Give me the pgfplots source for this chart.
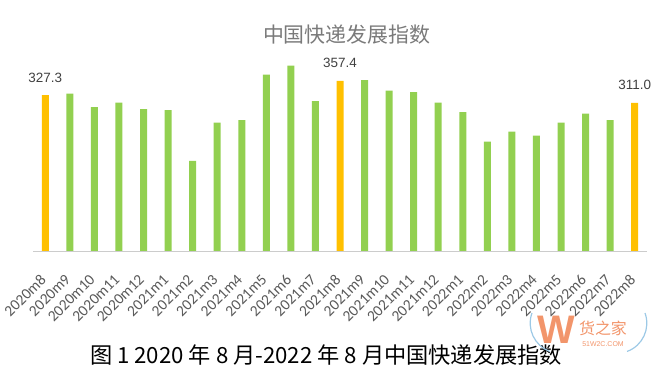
\documentclass[border=0pt]{standalone}
\usepackage{pgfplots}
\pgfplotsset{compat=1.18}
\usepackage{fontspec}
\setmainfont{Liberation Sans}
\newfontfamily\cjk{Noto Sans CJK SC}
\newfontfamily\calibri{Carlito}
\definecolor{barG}{HTML}{92D050}
\definecolor{barY}{HTML}{FFC000}
\definecolor{tickgray}{HTML}{595959}
\definecolor{labgray}{HTML}{404040}
\definecolor{titlegray}{HTML}{7A7A7A}
\definecolor{wmorange}{HTML}{F2956B}
\definecolor{wmblue}{HTML}{9CC9E6}
\begin{document}
\begin{tikzpicture}
\path[use as bounding box] (0,0) rectangle (659bp,381bp);
\begin{axis}[
  scale only axis, width=614bp, height=200bp,
  at={(33bp,130bp)}, anchor=south west,
  xmin=-0.5, xmax=24.5, ymin=0, ymax=420,
  axis y line=none, axis x line*=bottom,
  x axis line style={draw=black!20, line width=0.8pt, -},
  xtick={0,...,24},
  xticklabels={2020m8,2020m9,2020m10,2020m11,2020m12,2021m1,2021m2,2021m3,2021m4,2021m5,2021m6,2021m7,2021m8,2021m9,2021m10,2021m11,2021m12,2022m1,2022m2,2022m3,2022m4,2022m5,2022m6,2022m7,2022m8},
  major tick length=0pt,
  xticklabel style={yshift=-26bp, xshift=-2bp, rotate=45, anchor=east, font=\calibri\fontsize{15.5}{15.5}\selectfont, text=tickgray, inner sep=0pt},
  ybar, bar width=7bp,
  clip=false,
]
\addplot[ybar, bar shift=0pt, fill=barG, draw=none] coordinates {
(1,330.3) (2,302.4) (3,311.4) (4,298.2) (5,296.1) (6,189.0) (7,269.4) (8,275.1)
(9,370.2) (10,389.1) (11,315.0) (13,359.1) (14,336.6) (15,333.9) (16,311.4)
(17,291.9) (18,229.5) (19,250.5) (20,242.1) (21,269.4) (22,288.3) (23,275.1)
};
\addplot[ybar, bar shift=0pt, fill=barY, draw=none,
  point meta=y,
  nodes near coords={\pgfmathprintnumber[fixed,fixed zerofill,precision=1,assume math mode=true]{\pgfplotspointmeta}},
  every node near coord/.append style={font=\fontsize{13.5}{13.5}\selectfont, text=labgray, anchor=base, yshift=13bp, inner sep=0pt},
] coordinates {(0,327.3) (12,357.4) (24,311.0)};
\end{axis}
\node[font=\cjk\fontsize{21}{21}\selectfont, text=titlegray] at (346.7bp,346bp) {中国快递发展指数};
\node[font=\cjk\fontsize{22.3}{22.3}\selectfont, text=black] at (326bp,26bp) {图 1 2020 年 8 月-2022 年 8 月中国快递发展指数};
% watermark
\draw[wmblue, line width=1.2pt] (532bp,68bp) arc[start angle=160, end angle=250, radius=30bp];
\draw[wmblue, line width=1.2pt] (645bp,68bp) arc[start angle=20, end angle=-70, radius=30bp];
\node[font=\bfseries\fontsize{40}{40}\selectfont, text=wmorange] at (556bp,51bp) {W};
\node[font=\cjk\fontsize{16}{16}\selectfont, text=wmorange] at (603bp,53bp) {货之家};
\node[font=\fontsize{7}{7}\selectfont, text=wmorange] at (603bp,37bp) {51W2C.COM};
\end{tikzpicture}
\end{document}
